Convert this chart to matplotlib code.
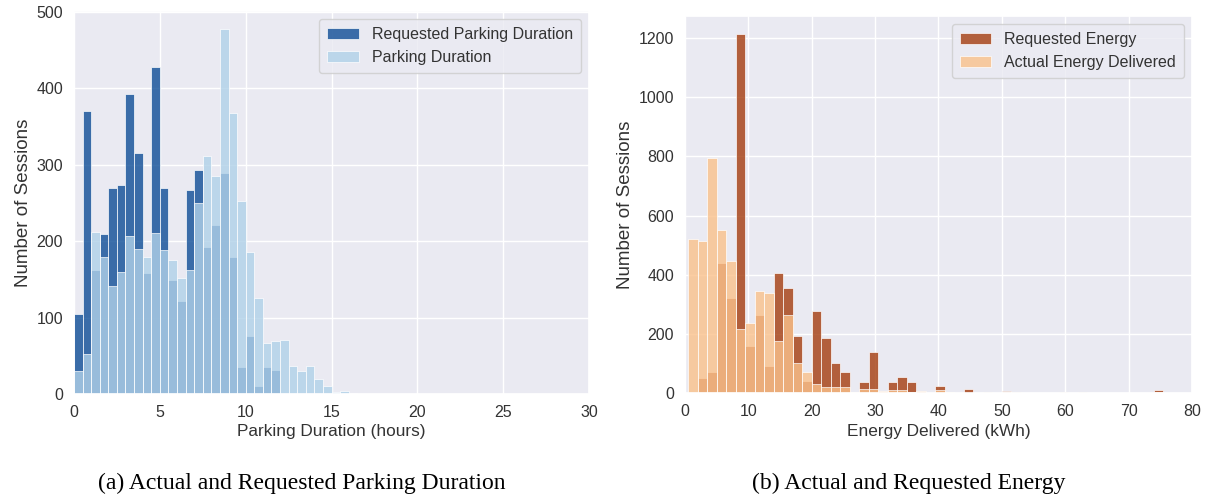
import numpy as np
import matplotlib
matplotlib.use("Agg")
import matplotlib.pyplot as plt
import seaborn as sns

# Parking duration histograms (0.5 h bins starting at 0)
dur_bin_start = 0.0
dur_bin_width = 0.5
requested_duration = [105, 370, 162, 209, 270, 274, 393, 315, 158, 428, 270, 149, 121,
                      267, 293, 192, 221, 289, 179, 35, 76, 10, 35, 31, 0, 0, 0, 0,
                      0, 0, 0, 0, 0]
actual_duration = [30, 52, 212, 179, 141, 160, 207, 190, 179, 211, 189, 175, 152,
                   162, 250, 311, 285, 477, 368, 252, 186, 125, 67, 69, 70, 37, 30,
                   37, 20, 10, 2, 4, 1]

# Energy histograms (1.5 kWh bins starting at 0.5)
energy_bin_start = 0.5
energy_bin_width = 1.5
requested_energy = [0, 53, 73, 439, 323, 1213, 158, 264, 93, 405, 357, 194, 43, 277,
                    188, 101, 72, 0, 38, 138, 0, 38, 55, 38, 0, 0, 24, 5, 0, 14, 0,
                    5, 0, 9, 5, 0, 0, 0, 0, 5, 0, 5, 0, 0, 0, 0, 0, 0, 0, 12]
actual_energy = [520, 514, 793, 552, 445, 216, 236, 347, 337, 175, 265, 101, 73, 31,
                 22, 20, 20, 5, 13, 13, 9, 10, 10, 3, 6, 0, 10, 3, 0, 2, 0, 2, 0,
                 3, 2, 0, 0, 2, 0, 2, 0, 2, 0, 0, 0, 0, 0, 0, 0, 4]

sns.set_theme(style="darkgrid")
plt.rcParams["font.family"] = ["Liberation Sans", "DejaVu Sans"]

fig = plt.figure(figsize=(12.09, 4.97), dpi=100)
ax1 = fig.add_axes([0.0612, 0.2072, 0.4260, 0.7708])
ax2 = fig.add_axes([0.5666, 0.2087, 0.4193, 0.7591])

TICK_FS = 11.5
XLABEL_FS = 12.4
YLABEL_FS = 13.5
TEXT_COLOR = "#333333"


def draw_pair(ax, start, width, first, second, c1, c2, labels):
    lefts = start + width * np.arange(len(first))
    ax.bar(lefts, first, width=width, align="edge", color=c1, alpha=0.8,
           edgecolor="white", linewidth=0.6, label=labels[0])
    ax.bar(lefts, second, width=width, align="edge", color=c2, alpha=0.8,
           edgecolor="white", linewidth=0.6, label=labels[1])
    ax.tick_params(labelsize=TICK_FS, colors=TEXT_COLOR, pad=2)
    ax.set_ylabel("Number of Sessions", fontsize=YLABEL_FS, color=TEXT_COLOR, labelpad=3)
    leg = ax.legend(loc="upper right", fontsize=11.5, frameon=True, borderpad=0.5,
                    handlelength=2.0)
    for t in leg.get_texts():
        t.set_color(TEXT_COLOR)


draw_pair(ax1, dur_bin_start, dur_bin_width, requested_duration, actual_duration,
          "#0e4d96", "#b0d1e8", ["Requested Parking Duration", "Parking Duration"])
ax1.set_xlim(0, 30)
ax1.set_ylim(0, 501)
ax1.set_xticks(range(0, 31, 5))
ax1.set_yticks(range(0, 501, 100))
ax1.set_xlabel("Parking Duration (hours)", fontsize=XLABEL_FS, color=TEXT_COLOR, labelpad=3)

draw_pair(ax2, energy_bin_start, energy_bin_width, requested_energy, actual_energy,
          "#a43c0e", "#fac18b", ["Requested Energy", "Actual Energy Delivered"])
ax2.set_xlim(0, 80)
ax2.set_ylim(0, 1274)
ax2.set_xticks(range(0, 81, 10))
ax2.set_yticks(range(0, 1201, 200))
ax2.set_xlabel("Energy Delivered (kWh)", fontsize=XLABEL_FS, color=TEXT_COLOR, labelpad=3)

fig.text(0.25, 0.028, "(a) Actual and Requested Parking Duration",
         family="Liberation Serif", fontsize=17, ha="center", va="center", color="black")
fig.text(0.752, 0.028, "(b) Actual and Requested Energy",
         family="Liberation Serif", fontsize=17, ha="center", va="center", color="black")

fig.savefig("out.png", dpi=100)
